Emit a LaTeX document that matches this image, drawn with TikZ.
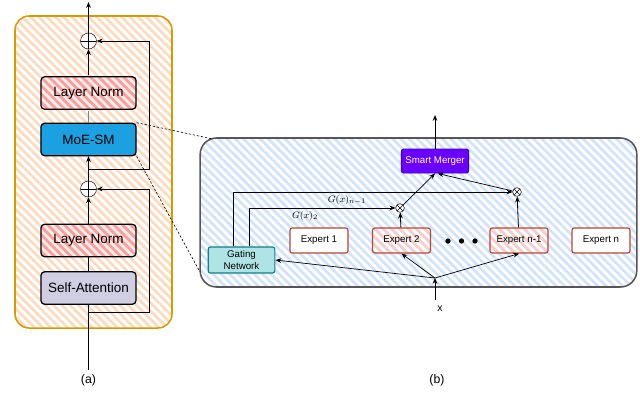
\documentclass[tikz,border=0pt]{standalone}
\usepackage{fontspec}
\setmainfont{Liberation Sans}
\usepackage{tikz}
\usepackage{xcolor}
\usetikzlibrary{arrows.meta,patterns.meta,positioning}

\definecolor{sketchorange}{RGB}{215,155,0}
\definecolor{orangehatch}{RGB}{252,218,190}
\definecolor{redhatch}{RGB}{245,160,158}
\definecolor{pinkfill}{RGB}{253,236,232}
\definecolor{bluehatch}{RGB}{208,227,250}
\definecolor{moeblue}{RGB}{27,161,226}
\definecolor{lilac}{RGB}{208,206,226}
\definecolor{mergerviolet}{RGB}{106,0,255}
\definecolor{mergerborder}{RGB}{55,0,204}
\definecolor{gatefill}{RGB}{176,227,230}
\definecolor{gateborder}{RGB}{14,128,136}
\definecolor{expertred}{RGB}{184,70,55}
\definecolor{expertpink}{RGB}{249,205,200}
\definecolor{panelgray}{RGB}{85,85,85}

\begin{document}
\begin{tikzpicture}[x=0.03cm,y=-0.03cm,>={Stealth[length=5pt,width=4pt]}]
    \tikzset{Block/.style={%
        shape=rectangle,%
        draw=black,%
        line width=1.1pt,%
        rounded corners=3pt,%
        minimum width=2.85cm,%
        minimum height=0.97cm,%
        font=\fontsize{11.5}{12}\selectfont,%
    }}
    \tikzset{NormBlock/.style={%
        Block,%
        preaction={fill=pinkfill},%
        pattern={Lines[angle=-45,distance=5pt,line width=2.4pt]},%
        pattern color=redhatch,%
    }}
    \tikzset{Expert/.style={%
        shape=rectangle,%
        draw=expertred,%
        line width=1pt,%
        rounded corners=2pt,%
        fill=white,%
        minimum width=1.74cm,%
        minimum height=0.75cm,%
        font=\fontsize{8.3}{9}\selectfont,%
    }}
    \tikzset{HatchedExpert/.style={%
        Expert,%
        pattern={Lines[angle=-45,distance=5pt,line width=2.2pt]},%
        pattern color=expertpink,%
    }}
    \tikzset{Sum/.style={%
        shape=circle,%
        draw=black,%
        fill=white,%
        minimum size=0.48cm,%
        inner sep=0pt,%
        path picture={\draw (path picture bounding box.north) -- (path picture bounding box.south)
            (path picture bounding box.west) -- (path picture bounding box.east);},%
    }}
    \tikzset{Prod/.style={%
        shape=circle,%
        draw=black,%
        fill=white,%
        minimum size=0.26cm,%
        inner sep=0pt,%
        path picture={\draw (path picture bounding box.north west) -- (path picture bounding box.south east)
            (path picture bounding box.north east) -- (path picture bounding box.south west);},%
    }}
    \tikzset{Zoom/.style={%
        draw=black,%
        line width=0.5pt,%
        dash pattern=on 2pt off 1.5pt,%
    }}

    \useasboundingbox (0,0) rectangle (640,409);

    % left panel: the layer
    \node[draw=sketchorange, line width=1.3pt, rounded corners=12pt,
        minimum width=4.71cm, minimum height=9.36cm,
        preaction={fill=white},
        pattern={Lines[angle=-45,distance=5pt,line width=2.2pt]}, pattern color=orangehatch]
        (layer) at (93.5,172) {};

    \node[NormBlock] (ln2) at (88.5,93) {Layer Norm};
    \node[Block, fill=moeblue] (moesm) at (88.5,139.5) {MoE-SM};
    \node[NormBlock] (ln1) at (88.5,240.5) {Layer Norm};
    \node[Block, fill=lilac] (attn) at (88.5,288) {Self-Attention};
    \node[Sum] (sum2) at (88.5,41) {};
    \node[Sum] (sum1) at (88.5,189) {};

    \coordinate (in) at (88.5,370);
    \coordinate (out) at (88.5,2);
    \coordinate (res1) at (88.5,312);
    \coordinate (res1r) at (149,312);
    \coordinate (res2) at (88.5,169);
    \coordinate (res2r) at (149,169);

    \draw[line width=0.6pt] (in) -- (attn);
    \draw[line width=0.8pt] (attn) -- (ln1);
    \draw[->, line width=0.8pt] (ln1) -- (sum1);
    \draw[->, line width=0.8pt] (sum1) -- (moesm);
    \draw[gray, line width=0.5pt] (moesm) -- (ln2);
    \draw[->, line width=0.8pt] (ln2) -- (sum2);
    \draw[->, line width=0.8pt] (sum2) -- (out);
    \draw[->, line width=0.6pt] (res1) -- (res1r) |- (sum1);
    \draw[->, line width=0.6pt] (res2) -- (res2r) |- (sum2);

    \node[font=\fontsize{10.5}{12}\selectfont] (capa) at (88.5,380) {(a)};

    % right panel: the mixture of experts
    \node[draw=panelgray, line width=1.3pt, rounded corners=14pt,
        minimum width=13.1cm, minimum height=4.47cm,
        preaction={fill=white},
        pattern={Lines[angle=-45,distance=5pt,line width=2.2pt]}, pattern color=bluehatch]
        (moe) at (418.5,212.5) {};

    \coordinate (zt) at (213,139);
    \coordinate (zb) at (200,272);
    \draw[Zoom] (moesm.north east) -- (zt);
    \draw[Zoom] (moesm.south east) -- (zb);

    \node[Expert] (e1) at (319,240.5) {Expert 1};
    \node[HatchedExpert] (e2) at (401.5,240.5) {Expert 2};
    \node[HatchedExpert] (en1) at (519,240.5) {Expert n-1};
    \node[Expert] (en) at (601,240.5) {Expert n};
    \foreach \dx/\nm in {448/d1,461.5/d2,475/d3}
        \node[circle, fill=black, inner sep=0pt, minimum size=4.5pt] (\nm) at (\dx,241) {};

    \node[draw=gateborder, line width=1pt, fill=gatefill, rounded corners=2pt,
        minimum width=2.0cm, minimum height=0.78cm, align=center,
        font=\fontsize{8.3}{9.5}\selectfont] (gate) at (241.5,260) {Gating\\Network};

    \node[draw=mergerborder, line width=0.8pt, fill=mergerviolet, text=white, rounded corners=2pt,
        minimum width=1.98cm, minimum height=0.72cm,
        font=\fontsize{8.3}{9}\selectfont] (merger) at (435,161) {Smart Merger};

    \node[Prod] (p2) at (400,208) {};
    \node[Prod] (pn1) at (517,192) {};

    \coordinate (x) at (435,300);
    \coordinate (fan) at (435,278);
    \coordinate (moeout) at (435,115);
    \coordinate (g2) at (249,208);
    \coordinate (gn1) at (233,192);

    \draw[->, line width=0.8pt] (x) -- (fan);
    \draw[->, line width=0.6pt] (fan) -- (gate.east);
    \draw[->, line width=0.6pt] (fan) -- (e2.south);
    \draw[->, line width=0.6pt] (fan) -- (en1.south);
    \draw[->, line width=0.7pt] (e2) -- (p2);
    \draw[->, line width=0.7pt] (en1) -- (pn1);
    \draw[->, line width=0.6pt] (p2) -- (merger.south);
    \draw[->, line width=0.6pt] (pn1) -- ([xshift=0.08cm]merger.south);
    \draw[->, line width=0.8pt] (merger) -- (moeout);
    \draw[->, line width=0.6pt] (gate.north -| g2) -- (g2) -- (p2);
    \draw[->, line width=0.6pt] (gate.north -| gn1) -- (gn1) -- (pn1);

    \node[font=\fontsize{8}{9}\selectfont] (lg1) at (347,200) {$G(x)_{n-1}$};
    \node[font=\fontsize{8}{9}\selectfont] (lg2) at (305,216) {$G(x)_2$};
    \node[font=\fontsize{9}{10}\selectfont] (xlab) at (440,309) {x};

    \node[font=\fontsize{10.5}{12}\selectfont] (capb) at (437,380) {(b)};
\end{tikzpicture}
\end{document}
